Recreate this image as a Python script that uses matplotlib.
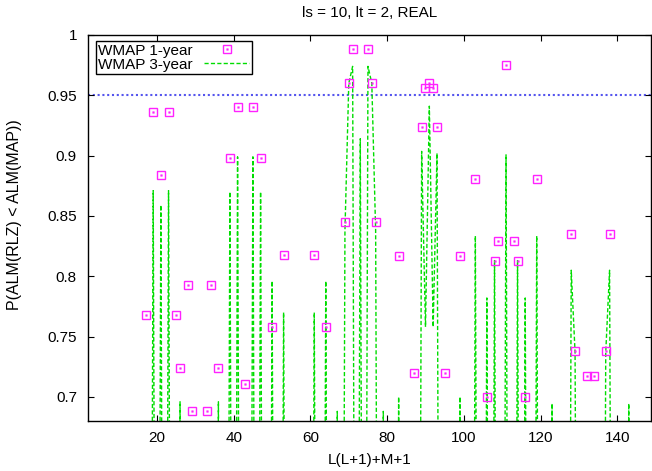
import numpy as np
import matplotlib
matplotlib.use("Agg")
import matplotlib.pyplot as plt
from matplotlib.legend_handler import HandlerTuple

plt.rcParams['font.family'] = ['Liberation Sans', 'DejaVu Sans']

# WMAP 1-year points
x1 = [17, 19, 21, 23, 25, 26, 28, 29, 33, 34, 36, 39, 41, 43, 45, 47, 50, 53, 61, 64,
      69, 70, 71, 75, 76, 77, 83, 87, 89, 90, 91, 92, 93, 95, 99,
      103, 106, 108, 109, 111, 113, 114, 116, 119, 128, 129, 132, 134, 137, 138]
y1 = [0.768, 0.936, 0.884, 0.936, 0.768, 0.724, 0.793, 0.688, 0.688, 0.793, 0.724,
      0.898, 0.940, 0.711, 0.940, 0.898, 0.758, 0.818, 0.818, 0.758,
      0.845, 0.960, 0.988, 0.988, 0.960, 0.845, 0.817, 0.720, 0.924, 0.956, 0.960,
      0.956, 0.924, 0.720, 0.817,
      0.881, 0.700, 0.813, 0.829, 0.975, 0.829, 0.813, 0.700, 0.881,
      0.835, 0.738, 0.717, 0.717, 0.738, 0.835]

# WMAP 3-year: values at listed positions; all other integer positions are 0
x3 = [19, 21, 23, 26, 36, 39, 41, 45, 47, 50, 53, 61, 64, 67, 69, 70, 71, 73, 75, 76,
      77, 79, 83, 89, 90, 91, 92, 93, 99, 103, 106, 108, 111, 114, 116, 119, 123,
      128, 129, 137, 138, 143]
y3 = [0.871, 0.859, 0.871, 0.696, 0.696, 0.870, 0.899, 0.899, 0.870, 0.796, 0.770,
      0.770, 0.796, 0.688, 0.838, 0.960, 0.974, 0.914, 0.974, 0.960, 0.838, 0.688,
      0.700, 0.9035, 0.758, 0.941, 0.758, 0.902, 0.700, 0.8335, 0.782, 0.813, 0.9007,
      0.813, 0.782, 0.8335, 0.6945, 0.805, 0.737, 0.737, 0.805, 0.6945]
x3_range = (2, 148)

threshold = 0.95
title = "ls = 10, lt = 2, REAL"
xlabel = "L(L+1)+M+1"
ylabel = "P(ALM(RLZ) < ALM(MAP))"
xticks = [20, 40, 60, 80, 100, 120, 140]
yticks = [0.7, 0.75, 0.8, 0.85, 0.9, 0.95, 1.0]
yticklabels = ["0.7", "0.75", "0.8", "0.85", "0.9", "0.95", "1"]

# full 3-year series
xs = np.arange(x3_range[0], x3_range[1] + 1)
ys = np.zeros(len(xs))
for xv, yv in zip(x3, y3):
    ys[xv - x3_range[0]] = yv

W, H = 652, 471
fig = plt.figure(figsize=(W / 100, H / 100), dpi=100)
ax = fig.add_axes([88 / W, 50 / H, 563 / W, 386 / H])

green = '#00dd00'
mag = '#ff22ff'

ax.axhline(threshold, color='#5555ee', lw=1.5, linestyle=(0, (1.0, 1.3)), zorder=1)
l3, = ax.plot(xs, ys, color=green, lw=1.0, linestyle=(0, (3, 1.6)), zorder=2)
m1, = ax.plot(x1, y1, linestyle='none', marker='s', markersize=5.3,
              markerfacecolor='none', markeredgecolor=mag, markeredgewidth=1.0, zorder=3)
m2, = ax.plot(x1, y1, linestyle='none', marker='s', markersize=1.2,
              markerfacecolor=mag, markeredgecolor=mag, markeredgewidth=0.3, zorder=3)

ax.set_xlim(2, 148.8)
ax.set_ylim(0.68, 1.0)
ax.set_xticks(xticks)
ax.set_yticks(yticks)
ax.set_yticklabels(yticklabels)
ax.tick_params(direction='in', length=4, width=0.8, top=True, right=True,
               labelsize=11)
ax.tick_params(axis='y', pad=8)
ax.tick_params(axis='x', pad=7)
for s in ax.spines.values():
    s.set_linewidth(1.0)

fig.text(369.5 / W, 1 - 13 / H, title, fontsize=11, ha='center', va='center')
ax.set_xlabel(xlabel, fontsize=11, labelpad=6)
fig.text(15 / W, 1 - 215 / H, ylabel, fontsize=11.5, rotation=90,
         ha='center', va='center')

leg = ax.legend([(m1, m2), l3], ["WMAP 1-year", "WMAP 3-year"],
                handler_map={tuple: HandlerTuple(ndivide=1, pad=0)},
                loc='upper left', bbox_to_anchor=(8 / 563, 1 - 6.5 / 386), fontsize=11,
                frameon=True, fancybox=False, edgecolor='black', framealpha=1,
                markerfirst=False, handlelength=3.0, handletextpad=0.7,
                borderpad=0.15, labelspacing=0.0, borderaxespad=0)
leg.get_frame().set_linewidth(1.0)

fig.savefig('out.png', dpi=100)
